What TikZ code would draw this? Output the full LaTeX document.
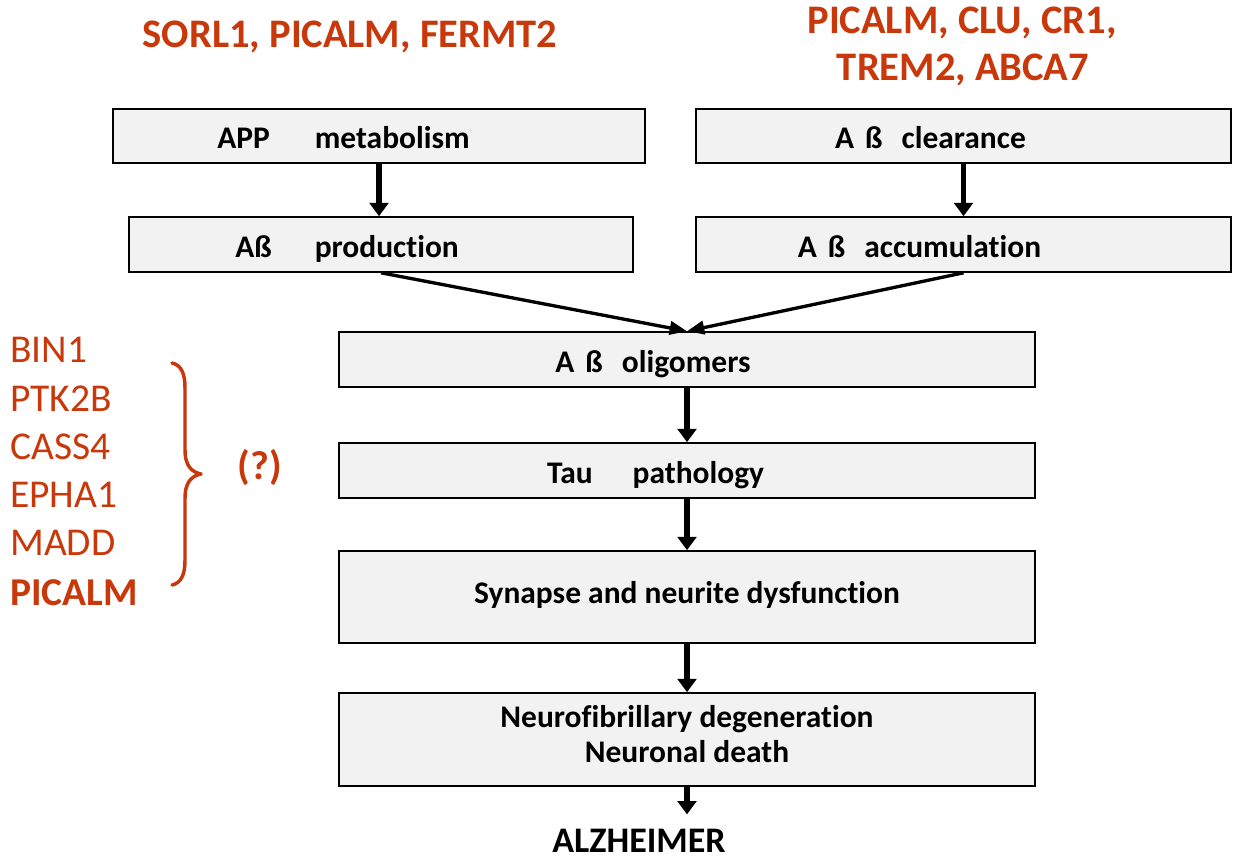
\documentclass[tikz,border=0pt]{standalone}
\usepackage{fontspec}
\setmainfont{Carlito}[Ligatures={NoCommon}]
\usetikzlibrary{arrows.meta}
\definecolor{gred}{RGB}{200,56,10}
\definecolor{boxfill}{RGB}{242,242,242}
\newcommand\hpx[1]{\hspace{\dimexpr#1pt*3/4\relax}}
\newcommand\tailpx[1]{\hspace{\dimexpr#1pt*3/4\relax}\null}
\begin{document}
\begin{tikzpicture}[x=0.75pt,y=-0.75pt,
  box/.style={draw=black, line width=1.2pt, fill=boxfill, inner sep=0pt,
    font=\fontsize{23.6}{26.25}\selectfont\bfseries, text height=19pt, text depth=0pt},
  bsize/.style 2 args={minimum width=#1*0.75pt, minimum height=#2*0.75pt},
  varrow/.style={-{Triangle[length=10pt,width=14pt]}, line width=4pt},
  darrow/.style={-{Triangle[length=13pt,width=10pt]}, line width=2.5pt},
  gene/.style={text=gred, font=\fontsize{29.6}{36}\selectfont, anchor=base west, inner sep=0pt},
  title/.style={text=gred, font=\fontsize{30.4}{34.5}\selectfont\bfseries, anchor=base, inner sep=0pt}
]
\useasboundingbox (0,0) rectangle (1234,859);

% titles
\node[title] (t1) at (350,48) {SORL1, PICALM, FERMT2};
\node[title] (t2a) at (962,34) {PICALM, CLU, CR1,};
\node[title] (t2b) at (963,81) {TREM2, ABCA7};

% boxes
\node[box, bsize={532}{54}] (app) at (379,136) {APP\hpx{45}metabolism\tailpx{71}};
\node[box, bsize={504}{55}] (prod) at (381,244.5) {A\ss\hpx{43}production\tailpx{68}};
\node[box, bsize={535}{54}] (clear) at (963.5,136) {A\hpx{11}\ss\hpx{19}clearance\tailpx{66}};
\node[box, bsize={535}{55}] (accum) at (963.5,244.5) {A\hpx{11}\ss\hpx{19}accumulation\tailpx{88}};
\node[box, bsize={696}{55}] (olig) at (687,359.5) {A\hpx{11}\ss\hpx{19}oligomers\tailpx{68}};
\node[box, bsize={696}{55}] (tau) at (687,470.5) {Tau\hpx{40}pathology\tailpx{63}};
\node[box, bsize={696}{92}, text height=15.2pt, text depth=6pt] (syn) at (687,597) {Synapse and neurite dysfunction};
\node[box, bsize={696}{93}, align=center, text height=41.25pt, text depth=7.5pt] (neuro) at (687,739.5) {Neurofibrillary degeneration\\Neuronal death};

\node[font=\fontsize{27}{30}\selectfont\bfseries, inner sep=0pt, anchor=base] (alz) at (639,852) {ALZHEIMER};

% arrows
\draw[varrow] (app.south) -- (app.south |- prod.north);
\draw[varrow] (clear.south) -- (clear.south |- accum.north);
\draw[darrow] (prod.south) -- (olig.north);
\draw[darrow] (accum.south) -- (olig.north);
\draw[varrow] (olig.south) -- (tau.north);
\draw[varrow] (tau.south) -- (syn.north);
\draw[varrow] (syn.south) -- (neuro.north);
\draw[varrow, shorten >=10.5pt] (neuro.south) -- (neuro.south |- alz.north);

% gene list
\node[gene] (g1) at (10,362) {BIN1};
\node[gene] (g2) at (10,411) {PTK2B};
\node[gene] (g3) at (10,459) {CASS4};
\node[gene] (g4) at (10,507) {EPHA1};
\node[gene] (g5) at (10,555) {MADD};
\node[gene] (g6) at (10,605) {\bfseries PICALM};

% brace
\draw[gred, line width=2.6pt, line cap=round, line join=round]
  (172,363) .. controls (181,365) and (185,373) .. (185,388) -- (185,450)
  .. controls (185,465) and (191,472) .. (201,474)
  .. controls (191,476) and (185,483) .. (185,498) -- (185,560)
  .. controls (185,575) and (181,583) .. (172,585);
\node[text=gred, font=\fontsize{30.4}{34.5}\selectfont\bfseries, inner sep=0pt] (q) at (260,468) {(?)};
\end{tikzpicture}
\end{document}
